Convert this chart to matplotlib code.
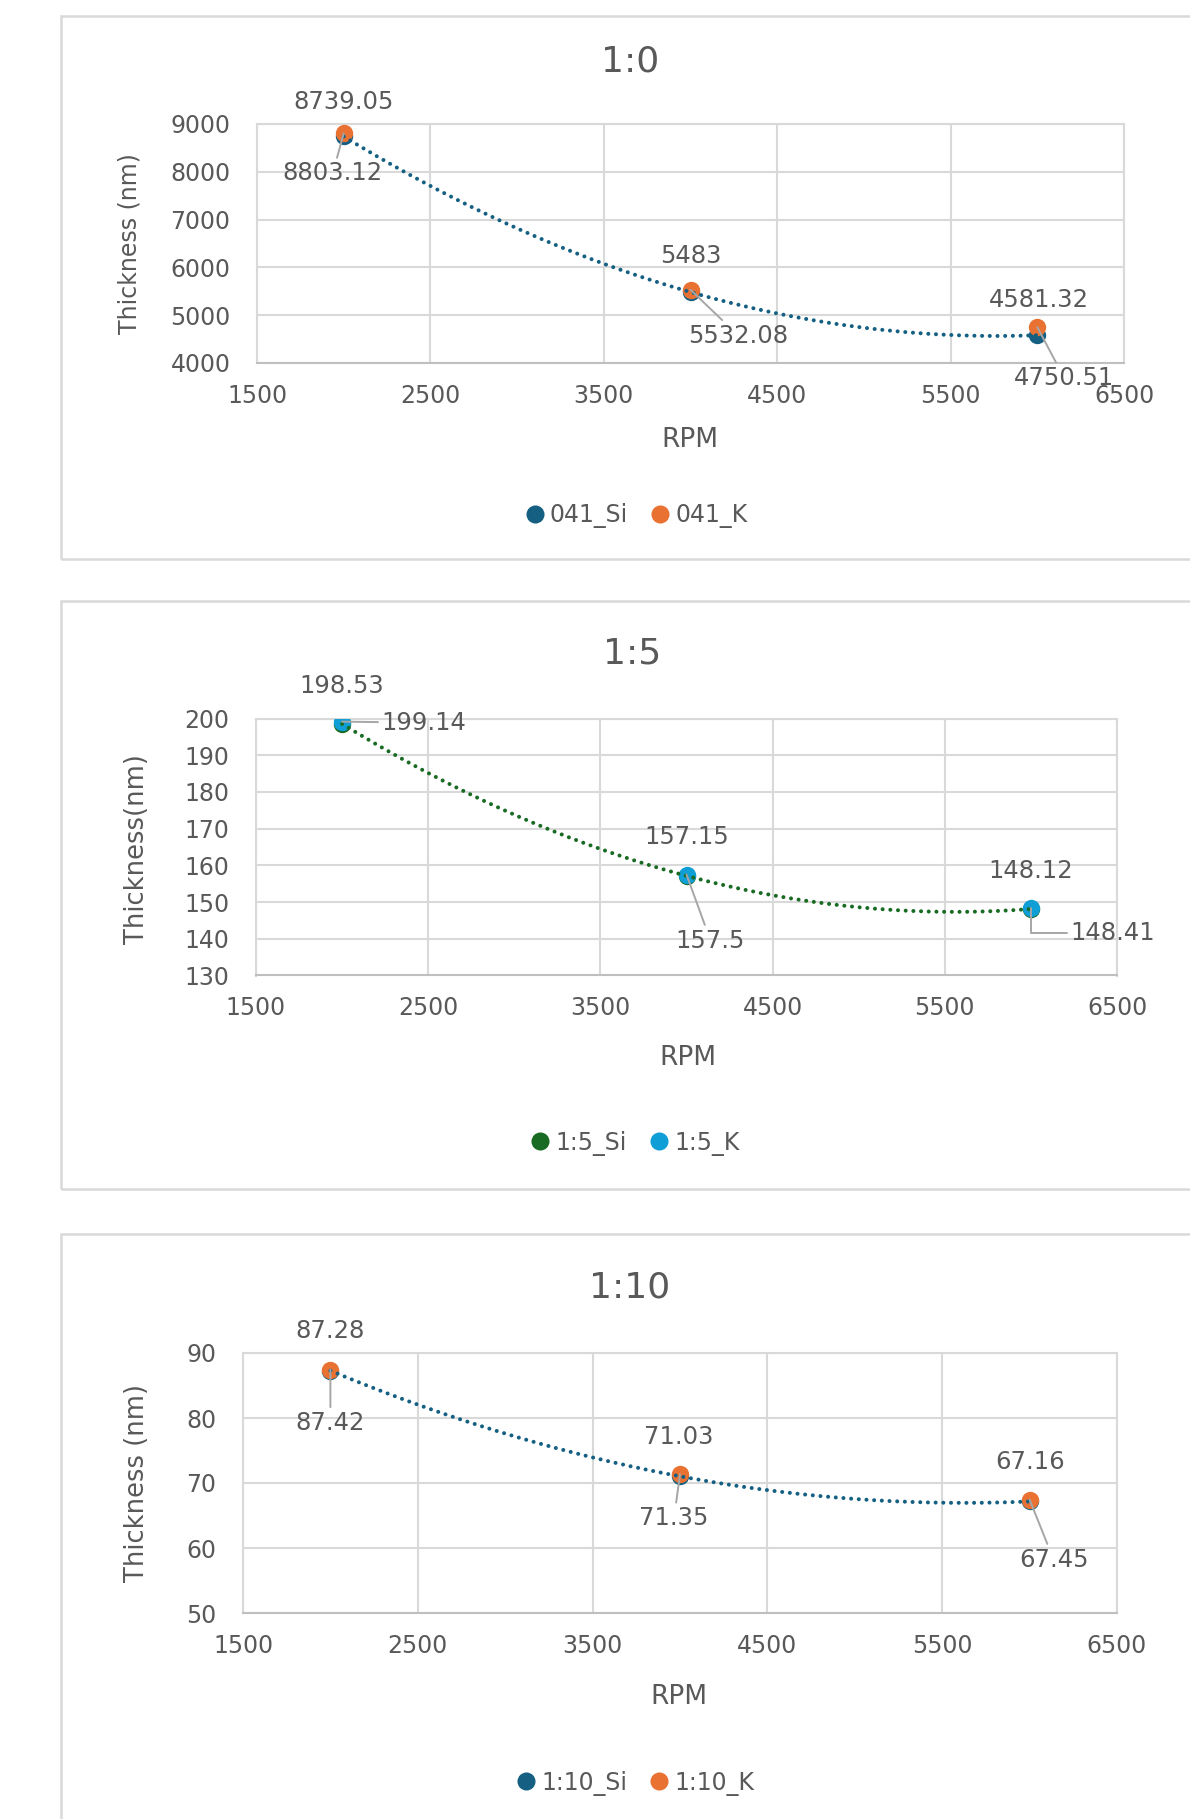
import numpy as np
import matplotlib
matplotlib.use('Agg')
import matplotlib.pyplot as plt
from matplotlib.patches import Rectangle
from matplotlib.lines import Line2D

# ---------------- data ----------------
rpm = [2000, 4000, 6000]

titles = ['1:0', '1:5', '1:10']
si_names = ['041_Si', '1:5_Si', '1:10_Si']
k_names = ['041_K', '1:5_K', '1:10_K']
ylabels = ['Thickness (nm)', 'Thickness(nm)', 'Thickness (nm)']

si_1_0 = [8739.05, 5483, 4581.32]
k_1_0 = [8803.12, 5532.08, 4750.51]
si_1_5 = [198.53, 157.15, 148.12]
k_1_5 = [199.14, 157.5, 148.41]
si_1_10 = [87.28, 71.03, 67.16]
k_1_10 = [87.42, 71.35, 67.45]

x_ticks = [1500, 2500, 3500, 4500, 5500, 6500]
y_ticks_1_0 = [4000, 5000, 6000, 7000, 8000, 9000]
y_ticks_1_5 = [130, 140, 150, 160, 170, 180, 190, 200]
y_ticks_1_10 = [50, 60, 70, 80, 90]

# ---------------- style / layout ----------------
W, H = 1190, 1819
TXT = '#595959'
GRID = '#D9D9D9'
LEAD = '#A6A6A6'
plt.rcParams['font.family'] = ['DejaVu Sans']

def fx(x):
    return x / W

def fy(y):
    return 1 - y / H

panels = [
    dict(si=si_1_0, k=k_1_0, yt=y_ticks_1_0,
         si_c='#156082', k_c='#E97132',
         box=(61, 16, 559), ax=(257, 1124, 124, 363),
         title=(630, 62), xl=(690, 440), yl=(130, 244), leg=(637, 516),
         si_off=[(0, 34), (0, 36), (2, 35)],
         k_off=[(-11, -40), (48, -46), (27, -51)],
         k_conn=[None, None, None]),
    dict(si=si_1_5, k=k_1_5, yt=y_ticks_1_5,
         si_c='#196B24', k_c='#0F9ED5',
         box=(61, 601, 1189), ax=(256, 1117, 718.5, 975.5),
         title=(632, 653), xl=(688, 1058), yl=(137, 849), leg=(636, 1143),
         si_off=[(0, 38), (0, 39), (0, 38)],
         k_off=[(82, -1), (24, -66), (82, -25)],
         k_conn=[None, None, 'elbow']),
    dict(si=si_1_10, k=k_1_10, yt=y_ticks_1_10,
         si_c='#156082', k_c='#E97132',
         box=(61, 1234, 1840), ax=(243, 1117, 1353, 1613),
         title=(630, 1287), xl=(679, 1697), yl=(137, 1483), leg=(636, 1783),
         si_off=[(0, 40), (-1, 39), (0, 39)],
         k_off=[(0, -53), (-6, -44), (24, -60)],
         k_conn=[None, None, None]),
]

fig = plt.figure(figsize=(W / 100, H / 100), dpi=100)
fig.patch.set_facecolor('white')

for i, p in enumerate(panels):
    bx, btop, bbot = p['box']
    fig.patches.append(Rectangle((fx(bx), fy(bbot)), fx(1300 - bx), (bbot - btop) / H,
                                 transform=fig.transFigure, fill=False,
                                 edgecolor=GRID, linewidth=1.8, zorder=0))
    l, r, t, b = p['ax']
    ax = fig.add_axes([fx(l), fy(b), (r - l) / W, (b - t) / H])
    ax.set_xlim(x_ticks[0], x_ticks[-1])
    ax.set_ylim(p['yt'][0], p['yt'][-1])
    ax.set_xticks(x_ticks)
    ax.set_yticks(p['yt'])
    ax.grid(True, color=GRID, linewidth=1.5, zorder=0)
    ax.set_axisbelow(True)
    for s in ax.spines.values():
        s.set_color(GRID)
        s.set_linewidth(1.5)
    ax.spines['bottom'].set_color('#BFBFBF')
    ax.tick_params(length=0, labelsize=17, colors=TXT)
    ax.tick_params(axis='y', pad=19)
    ax.tick_params(axis='x', pad=15)

    # markers
    ax.plot(rpm, p['si'], 'o', ms=12.5, color=p['si_c'], mec='none', zorder=4)
    ax.plot(rpm, p['k'], 'o', ms=12.5, color=p['k_c'], mec='none', zorder=5)

    # polynomial (order 2) trendline of Si series
    coef = np.polyfit(rpm, p['si'], 2)
    xs = np.linspace(rpm[0], rpm[-1], 300)
    ax.plot(xs, np.polyval(coef, xs), linestyle=(0, (0.01, 1.9)), lw=2.9,
            color=p['si_c'], dash_capstyle='round', zorder=6)

    # data labels
    for xv, yv, off in zip(rpm, p['si'], p['si_off']):
        ax.annotate(f'{yv:g}', (xv, yv), xytext=off, textcoords='offset pixels',
                    ha='center', va='center', fontsize=17.5, color=TXT, zorder=7,
                    annotation_clip=False)
    for xv, yv, off, conn in zip(rpm, p['k'], p['k_off'], p['k_conn']):
        if conn == 'elbow':
            ap = dict(arrowstyle='-', color=LEAD, lw=1.4, shrinkA=0, shrinkB=0,
                      relpos=(0, 0.5), connectionstyle='angle,angleA=0,angleB=90,rad=0')
        else:
            ap = dict(arrowstyle='-', color=LEAD, lw=1.4, shrinkA=0, shrinkB=0)
        ax.annotate(f'{yv:g}', (xv, yv), xytext=off, textcoords='offset pixels',
                    ha='center', va='center', fontsize=17.5, color=TXT, zorder=7,
                    annotation_clip=False, arrowprops=ap,
                    bbox=dict(boxstyle='square,pad=0.15', fc='none', ec='none'))

    fig.text(fx(p['title'][0]), fy(p['title'][1]), titles[i], ha='center', va='center',
             fontsize=26, color=TXT)
    fig.text(fx(p['xl'][0]), fy(p['xl'][1]), 'RPM', ha='center', va='center',
             fontsize=19, color=TXT)
    fig.text(fx(p['yl'][0]), fy(p['yl'][1]), ylabels[i], ha='center', va='center',
             rotation=90, fontsize=17 if i == 0 else 18.5, color=TXT)

    handles = [Line2D([], [], ls='none', marker='o', ms=13, color=p['si_c'], mec='none'),
               Line2D([], [], ls='none', marker='o', ms=13, color=p['k_c'], mec='none')]
    fig.legend(handles, [si_names[i], k_names[i]], loc='center',
               bbox_to_anchor=(fx(p['leg'][0]), fy(p['leg'][1])), ncol=2, frameon=False,
               fontsize=17, handlelength=0.7, handletextpad=0.3, columnspacing=1.0,
               labelcolor=TXT)

fig.savefig('out.png', dpi=100, facecolor='white')
